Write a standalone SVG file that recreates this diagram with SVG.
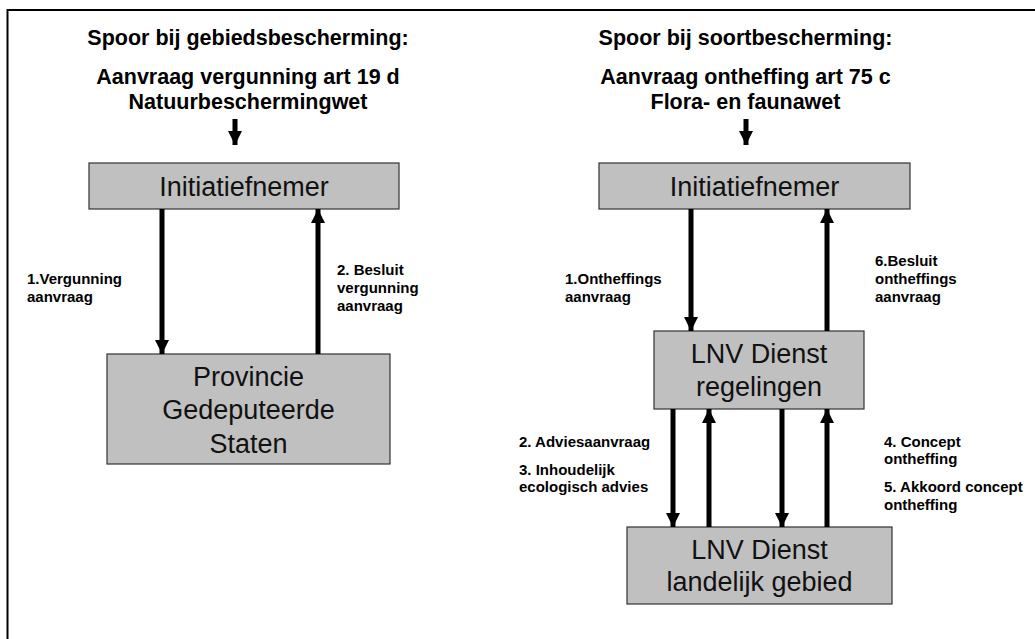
<svg xmlns="http://www.w3.org/2000/svg" width="1035" height="639" viewBox="0 0 1035 639">
<style>
.title{font-family:"Liberation Sans",Arial,sans-serif;font-weight:bold;font-size:21.5px;fill:#000;text-anchor:middle}
.box{fill:#c0c0c0;stroke:#333;stroke-width:1.2}
.bt{font-family:"Liberation Sans",Arial,sans-serif;font-size:27px;fill:#111;text-anchor:middle}
.lbl{font-family:"Liberation Sans",Arial,sans-serif;font-weight:bold;font-size:15px;fill:#000}
.ar{stroke:#000;stroke-width:5;fill:none;marker-end:url(#ah)}
</style>
<defs>
<marker id="ah" markerUnits="userSpaceOnUse" markerWidth="14" markerHeight="14" viewBox="0 0 14 14" refX="14" refY="7" orient="auto">
<path d="M0,0 L14,7 L0,14 Z" fill="#000"/>
</marker>
</defs>
<rect x="0" y="0" width="1035" height="639" fill="#fff"/>
<path d="M7.5,640 L7.5,10 L1036,10" fill="none" stroke="#000" stroke-width="2"/>
<g id="titles">
<text class="title" x="248" y="45">Spoor bij gebiedsbescherming:</text>
<text class="title" x="248" y="84">Aanvraag vergunning art 19 d</text>
<text class="title" x="248" y="109">Natuurbeschermingwet</text>
<text class="title" x="745.5" y="45">Spoor bij soortbescherming:</text>
<text class="title" x="745.5" y="84">Aanvraag ontheffing art 75 c</text>
<text class="title" x="745.5" y="109">Flora- en faunawet</text>
</g>
<g id="initiatiefnemer-left">
<rect class="box" x="89" y="163" width="310" height="46"/>
<text class="bt" x="244" y="196">Initiatiefnemer</text>
</g>
<g id="provincie">
<rect class="box" x="107" y="354" width="283" height="110"/>
<text class="bt" x="248.5" y="386">Provincie</text>
<text class="bt" x="248.5" y="419">Gedeputeerde</text>
<text class="bt" x="248.5" y="453">Staten</text>
</g>
<g id="initiatiefnemer-right">
<rect class="box" x="599" y="163" width="311" height="46"/>
<text class="bt" x="754.5" y="196">Initiatiefnemer</text>
</g>
<g id="lnv-regelingen">
<rect class="box" x="654" y="331" width="210" height="78"/>
<text class="bt" x="759" y="363">LNV Dienst</text>
<text class="bt" x="759" y="396">regelingen</text>
</g>
<g id="lnv-landelijk">
<rect class="box" x="627" y="527" width="265" height="77"/>
<text class="bt" x="759.5" y="559">LNV Dienst</text>
<text class="bt" x="759.5" y="591">landelijk gebied</text>
</g>
<g id="connectors">
<line class="ar" x1="235" y1="119" x2="235" y2="145"/>
<line class="ar" x1="746" y1="119" x2="746" y2="145"/>
<line class="ar" x1="162" y1="209" x2="162" y2="354"/>
<line class="ar" x1="318" y1="354" x2="318" y2="209"/>
<line class="ar" x1="691" y1="209" x2="691" y2="331"/>
<line class="ar" x1="827" y1="331" x2="827" y2="209"/>
<line class="ar" x1="673" y1="409" x2="673" y2="527"/>
<line class="ar" x1="709" y1="527" x2="709" y2="409"/>
<line class="ar" x1="782" y1="409" x2="782" y2="527"/>
<line class="ar" x1="827" y1="527" x2="827" y2="409"/>
</g>
<g id="labels">
<text class="lbl" x="27" y="284">1.Vergunning</text>
<text class="lbl" x="27" y="302">aanvraag</text>
<text class="lbl" x="337" y="275">2. Besluit</text>
<text class="lbl" x="337" y="293">vergunning</text>
<text class="lbl" x="337" y="311">aanvraag</text>
<text class="lbl" x="565" y="284">1.Ontheffings</text>
<text class="lbl" x="565" y="302">aanvraag</text>
<text class="lbl" x="875" y="266">6.Besluit</text>
<text class="lbl" x="875" y="284">ontheffings</text>
<text class="lbl" x="875" y="302">aanvraag</text>
<text class="lbl" x="519" y="447">2. Adviesaanvraag</text>
<text class="lbl" x="519" y="475">3. Inhoudelijk</text>
<text class="lbl" x="519" y="492">ecologisch advies</text>
<text class="lbl" x="884" y="447">4. Concept</text>
<text class="lbl" x="884" y="464">ontheffing</text>
<text class="lbl" x="884" y="492">5. Akkoord concept</text>
<text class="lbl" x="884" y="510">ontheffing</text>
</g>
</svg>
